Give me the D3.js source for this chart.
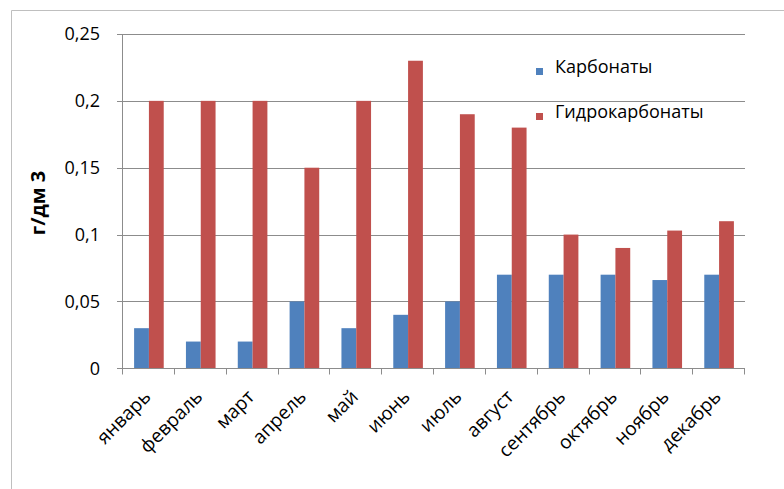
<!DOCTYPE html>
<html>
<head>
<meta charset="utf-8">
<script src="https://cdn.jsdelivr.net/npm/d3@7"></script>
<style>
  body { margin: 0; background: #fff; }
  text { font-family: "Open Sans", "DejaVu Sans", sans-serif; fill: #000; }
</style>
</head>
<body>
<div id="chart"></div>
<script>
const months = ["январь", "февраль", "март", "апрель", "май", "июнь",
  "июль", "август", "сентябрь", "октябрь", "ноябрь", "декабрь"];
const seriesNames = ["Карбонаты", "Гидрокарбонаты"];
const carbonates = [0.03, 0.02, 0.02, 0.05, 0.03, 0.04, 0.05, 0.07, 0.07, 0.07, 0.066, 0.07];
const hydrocarbonates = [0.2, 0.2, 0.2, 0.15, 0.2, 0.23, 0.19, 0.18, 0.1, 0.09, 0.103, 0.11];
const yTicks = [0, 0.05, 0.1, 0.15, 0.2, 0.25];
const colors = ["#4F81BD", "#C0504D"];

const width = 784, height = 489;
const plot = { left: 123, right: 745, top: 34, bottom: 368.3 };

const svg = d3.select("#chart").append("svg")
  .attr("width", width)
  .attr("height", height);

// outer frame (only left and top edges visible)
svg.append("path")
  .attr("d", `M11.5,${height} L11.5,10.5 L${width},10.5`)
  .attr("fill", "none")
  .attr("stroke", "#bfbfbf")
  .attr("stroke-width", 1);

const y = d3.scaleLinear()
  .domain([0, 0.25])
  .range([plot.bottom, plot.top]);

const x0 = d3.scaleBand()
  .domain(months)
  .range([plot.left, plot.right])
  .paddingInner(1.5 / 3.5)
  .paddingOuter(0.75 / 3.5);

const x1 = d3.scaleBand()
  .domain(seriesNames)
  .range([0, x0.bandwidth()]);

const fmt = v => String(v).replace(".", ",");

// gridlines + y ticks
svg.append("g")
  .selectAll("line")
  .data(yTicks)
  .join("line")
  .attr("x1", plot.left - 6)
  .attr("x2", d => d === 0 ? plot.left : plot.right)
  .attr("y1", d => Math.round(y(d)) + 0.5)
  .attr("y2", d => Math.round(y(d)) + 0.5)
  .attr("stroke", "#8c8c8c")
  .attr("stroke-width", 1);

svg.append("g")
  .selectAll("text")
  .data(yTicks)
  .join("text")
  .attr("x", 100)
  .attr("y", d => y(d))
  .attr("dy", "0.36em")
  .attr("text-anchor", "end")
  .style("font-size", "18px")
  .text(fmt);

// bars
const rows = months.map((m, i) => ({ month: m, values: [carbonates[i], hydrocarbonates[i]] }));

svg.append("g")
  .selectAll("g")
  .data(rows)
  .join("g")
  .attr("transform", d => `translate(${x0(d.month)},0)`)
  .selectAll("rect")
  .data(d => d.values.map((v, j) => ({ key: seriesNames[j], value: v, idx: j })))
  .join("rect")
  .attr("x", d => x1(d.key))
  .attr("y", d => y(d.value))
  .attr("width", x1.bandwidth())
  .attr("height", d => y(0) - y(d.value))
  .attr("fill", d => colors[d.idx]);

// axes lines
const axisY = Math.round(y(0)) + 0.5;
svg.append("line")
  .attr("x1", plot.left).attr("x2", plot.right)
  .attr("y1", axisY).attr("y2", axisY)
  .attr("stroke", "#8c8c8c");

svg.append("line")
  .attr("x1", plot.left - 0.5).attr("x2", plot.left - 0.5)
  .attr("y1", y(0.25)).attr("y2", y(0))
  .attr("stroke", "#8c8c8c");

// x ticks at category boundaries
const boundaries = d3.range(months.length + 1).map(i => plot.left + i * x0.step());
svg.append("g")
  .selectAll("line")
  .data(boundaries)
  .join("line")
  .attr("x1", d => Math.round(d) - 0.5)
  .attr("x2", d => Math.round(d) - 0.5)
  .attr("y1", axisY)
  .attr("y2", axisY + 6)
  .attr("stroke", "#8c8c8c");

// x labels
svg.append("g")
  .selectAll("text")
  .data(months)
  .join("text")
  .attr("transform", d => `translate(${x0(d) + x0.bandwidth() / 2 + 3},398) rotate(-45)`)
  .attr("text-anchor", "end")
  .style("font-size", "19px")
  .text(d => d);

// y axis title
svg.append("text")
  .attr("transform", "translate(45,203) rotate(-90)")
  .attr("text-anchor", "middle")
  .style("font-size", "20px")
  .style("font-weight", "bold")
  .text("г/дм 3");

// legend
const legend = svg.append("g")
  .selectAll("g")
  .data(seriesNames)
  .join("g")
  .attr("transform", (d, i) => `translate(536,${68 + i * 45})`);

legend.append("rect")
  .attr("width", 7)
  .attr("height", 7)
  .attr("fill", (d, i) => colors[i]);

legend.append("text")
  .attr("x", 19)
  .attr("y", 5)
  .style("font-size", "18px")
  .text(d => d);
</script>
</body>
</html>
